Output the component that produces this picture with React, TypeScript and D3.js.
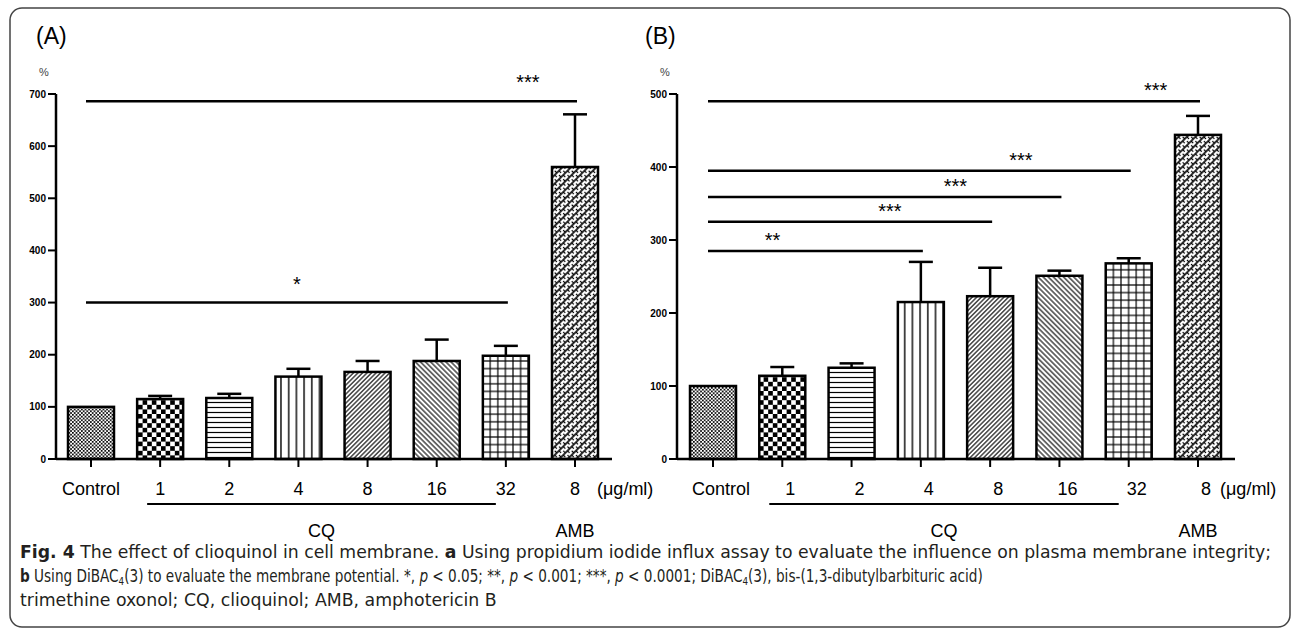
import React, { useEffect, useRef } from 'react';
import * as d3 from 'd3';

// categories on the x axis (keys) and the labels printed under the ticks
const categories = ['Control', 'CQ 1', 'CQ 2', 'CQ 4', 'CQ 8', 'CQ 16', 'CQ 32', 'AMB 8'];
const tickLabels = ['Control', '1', '2', '4', '8', '16', '32', '8'];
const patterns = ['pCtrl', 'pChk', 'pHor', 'pVer', 'pFwd', 'pBack', 'pGrid', 'pWeave'];

// (A) propidium iodide influx, %
const meansA = [100, 115, 117, 158, 167, 188, 198, 560];
const errA = [0, 6, 8, 15, 21, 41, 19, 101];
const yTicksA = [0, 100, 200, 300, 400, 500, 600, 700];

// (B) DiBAC4(3) membrane potential, %
const meansB = [100, 114, 125, 215, 223, 251, 268, 444];
const errB = [0, 12, 6, 55, 39, 7, 7, 26];
const yTicksB = [0, 100, 200, 300, 400, 500];

// significance bars: from / to category, level (in %), label, label position along the bar
const sigA = [
  { from: 'Control', to: 'AMB 8', level: 686, label: '***', at: 0.9 },
  { from: 'Control', to: 'CQ 32', level: 300, label: '*', at: 0.5 },
];
const sigB = [
  { from: 'Control', to: 'AMB 8', level: 490, label: '***', at: 0.91 },
  { from: 'Control', to: 'CQ 32', level: 395, label: '***', at: 0.74 },
  { from: 'Control', to: 'CQ 16', level: 359, label: '***', at: 0.7 },
  { from: 'Control', to: 'CQ 8', level: 325, label: '***', at: 0.64 },
  { from: 'Control', to: 'CQ 4', level: 285, label: '**', at: 0.3 },
];

// caption line widths in the figure
const captionWidths = [1252, 964, 477];

const AX = '"Liberation Sans", Arial, sans-serif';
const CAP = '"DejaVu Sans Condensed", "Liberation Sans Narrow", "Liberation Sans", Arial, sans-serif';

type Sig = { from: string; to: string; level: number; label: string; at: number };

const Panel = ({ title, titleX, axisX, xRange, yMax, ticks, means, errs, sigs, labelShift, starLift }: {
  title: string; titleX: number; axisX: number; xRange: [number, number]; yMax: number;
  ticks: number[]; means: number[]; errs: number[]; sigs: Sig[]; labelShift: number; starLift: number;
}) => {
  const x = d3.scalePoint<string>().domain(categories).range(xRange);
  const y = d3.scaleLinear().domain([0, yMax]).range([459, 94]);
  const bw = 46;
  const xEnd = xRange[1] + 37;
  const cq0 = (x('CQ 1') as number) - 13;
  const cq1 = (x('CQ 32') as number) - 10;
  return (
    <g>
      <text x={titleX} y={44} fontFamily={AX} fontSize={23}>{title}</text>
      <text x={axisX - 17} y={76} fontFamily={AX} fontSize={11} fill="#444">%</text>
      {/* bars */}
      {categories.map((c, i) => {
        const cx = x(c) as number;
        const top = y(means[i]);
        return (
          <g key={c}>
            {errs[i] > 0 && (
              <g stroke="#000" strokeWidth={2.5}>
                <line x1={cx} x2={cx} y1={top} y2={y(means[i] + errs[i])} />
                <line x1={cx - 12} x2={cx + 12} y1={y(means[i] + errs[i])} y2={y(means[i] + errs[i])} />
              </g>
            )}
            <rect x={cx - bw / 2} y={top} width={bw} height={y(0) - top} fill="#fff" />
            <rect x={cx - bw / 2} y={top} width={bw} height={y(0) - top}
              fill={`url(#${patterns[i]})`} stroke="#000" strokeWidth={2.5} />
          </g>
        );
      })}
      {/* y axis */}
      <line x1={axisX} x2={axisX} y1={y(0)} y2={y(yMax)} stroke="#000" strokeWidth={2.5} />
      {ticks.map(t => (
        <g key={t}>
          <line x1={axisX - 8} x2={axisX} y1={y(t)} y2={y(t)} stroke="#000" strokeWidth={2} />
          <text x={axisX - 10} y={y(t)} dy="0.36em" textAnchor="end" fontFamily={AX}
            fontWeight="bold" fontSize={10}>{t}</text>
        </g>
      ))}
      {/* x axis */}
      <line x1={axisX} x2={xEnd} y1={y(0)} y2={y(0)} stroke="#000" strokeWidth={2.5} />
      {categories.map((c, i) => (
        <g key={c}>
          <line x1={x(c)} x2={x(c)} y1={y(0)} y2={y(0) + 8} stroke="#000" strokeWidth={2} />
          <text x={(x(c) as number) + labelShift} y={495} textAnchor="middle" fontFamily={AX}
            fontSize={18}>{tickLabels[i]}</text>
        </g>
      ))}
      <text x={(x('AMB 8') as number) + 22} y={495} fontFamily={AX} fontSize={18}>(μg/ml)</text>
      <line x1={cq0} x2={cq1} y1={504} y2={504} stroke="#000" strokeWidth={2} />
      <text x={(cq0 + cq1) / 2} y={537} textAnchor="middle" fontFamily={AX} fontSize={18}>CQ</text>
      <text x={x('AMB 8')} y={537} textAnchor="middle" fontFamily={AX} fontSize={18}>AMB</text>
      {/* significance */}
      {sigs.map((s, i) => {
        const x0 = (x(s.from) as number) - 5;
        const x1 = (x(s.to) as number) + 2;
        const ly = y(s.level);
        return (
          <g key={i}>
            <line x1={x0} x2={x1} y1={ly} y2={ly} stroke="#000" strokeWidth={2.5} />
            <text x={x0 + (x1 - x0) * s.at} y={ly - starLift} textAnchor="middle"
              fontFamily={AX} fontSize={20}>{s.label}</text>
          </g>
        );
      })}
    </g>
  );
};

const App = () => {
  const capRef = useRef<SVGGElement>(null);

  // squeeze each caption line horizontally to the width it has in the figure
  useEffect(() => {
    if (!capRef.current) return;
    d3.select(capRef.current).selectAll<SVGTextElement, unknown>('text').each(function (_, i) {
      const w = this.getBBox().width;
      if (w > 0) {
        const k = captionWidths[i] / w;
        d3.select(this).attr('transform', `translate(20,0) scale(${k},1) translate(-20,0)`);
      }
    });
  }, []);

  return (
    <svg width={1292} height={628} style={{ position: 'absolute', left: 0, top: 0, background: '#fff' }}>
      <defs>
        <pattern id="pCtrl" width={3.6} height={3.6} patternUnits="userSpaceOnUse">
          <rect width={3.6} height={3.6} fill="#fff" />
          <rect width={1.7} height={1.7} fill="#000" />
          <rect x={1.8} y={1.8} width={1.7} height={1.7} fill="#000" />
        </pattern>
        <pattern id="pChk" width={9.2} height={9.2} patternUnits="userSpaceOnUse">
          <rect width={9.2} height={9.2} fill="#fff" />
          <rect width={4.6} height={4.6} fill="#000" />
          <rect x={4.6} y={4.6} width={4.6} height={4.6} fill="#000" />
        </pattern>
        <pattern id="pHor" width={5} height={5} patternUnits="userSpaceOnUse">
          <rect width={5} height={5} fill="#fff" />
          <line x1={0} x2={5} y1={2.5} y2={2.5} stroke="#000" strokeWidth={1.2} />
        </pattern>
        <pattern id="pVer" width={7.7} height={7.7} patternUnits="userSpaceOnUse">
          <rect width={7.7} height={7.7} fill="#fff" />
          <line x1={3.8} x2={3.8} y1={0} y2={7.7} stroke="#000" strokeWidth={1.4} />
        </pattern>
        <pattern id="pFwd" width={3.2} height={10} patternUnits="userSpaceOnUse" patternTransform="rotate(45)">
          <rect width={3.2} height={10} fill="#fff" />
          <line x1={1.6} x2={1.6} y1={0} y2={10} stroke="#000" strokeWidth={1.1} />
        </pattern>
        <pattern id="pBack" width={3.6} height={10} patternUnits="userSpaceOnUse" patternTransform="rotate(-45)">
          <rect width={3.6} height={10} fill="#fff" />
          <line x1={1.8} x2={1.8} y1={0} y2={10} stroke="#000" strokeWidth={1.1} />
        </pattern>
        <pattern id="pGrid" width={7.6} height={7.6} patternUnits="userSpaceOnUse">
          <rect width={7.6} height={7.6} fill="#fff" />
          <line x1={3.8} x2={3.8} y1={0} y2={7.6} stroke="#000" strokeWidth={1.2} />
          <line x1={0} x2={7.6} y1={3.8} y2={3.8} stroke="#000" strokeWidth={1.2} />
        </pattern>
        <pattern id="pWeave" width={6} height={6} patternUnits="userSpaceOnUse" patternTransform="rotate(45)">
          <rect width={6} height={6} fill="#fff" />
          <line x1={0} x2={0} y1={0} y2={6} stroke="#000" strokeWidth={1.6} />
          <line x1={6} x2={6} y1={0} y2={6} stroke="#000" strokeWidth={1.6} />
          <line x1={0} x2={3} y1={1.5} y2={1.5} stroke="#000" strokeWidth={1.2} />
          <line x1={3} x2={6} y1={4.5} y2={4.5} stroke="#000" strokeWidth={1.2} />
        </pattern>
      </defs>
      <rect x={10} y={8} width={1280} height={619} rx={12} fill="none" stroke="#444" strokeWidth={1.5} />
      <Panel title="(A)" titleX={36} axisX={56} xRange={[91, 575]} yMax={700} ticks={yTicksA}
        means={meansA} errs={errA} sigs={sigA} labelShift={0} starLift={12} />
      <Panel title="(B)" titleX={645} axisX={677} xRange={[713, 1198]} yMax={500} ticks={yTicksB}
        means={meansB} errs={errB} sigs={sigB} labelShift={8} starLift={4} />
      <g ref={capRef} fontFamily={CAP} fontSize={17} fill="#231f20">
        <text x={20} y={558}>
          <tspan fontWeight="bold">Fig. 4</tspan> The effect of clioquinol in cell membrane. <tspan fontWeight="bold">a</tspan> Using propidium iodide influx assay to evaluate the influence on plasma membrane integrity;
        </text>
        <text x={20} y={582}>
          <tspan fontWeight="bold">b</tspan> Using DiBAC<tspan fontSize={11} dy={3}>4</tspan><tspan dy={-3}>(3) to evaluate the membrane potential. *, </tspan><tspan fontStyle="italic">p</tspan> &lt; 0.05; **, <tspan fontStyle="italic">p</tspan> &lt; 0.001; ***, <tspan fontStyle="italic">p</tspan> &lt; 0.0001; DiBAC<tspan fontSize={11} dy={3}>4</tspan><tspan dy={-3}>(3), bis-(1,3-dibutylbarbituric acid)</tspan>
        </text>
        <text x={20} y={606}>
          trimethine oxonol; CQ, clioquinol; AMB, amphotericin B
        </text>
      </g>
    </svg>
  );
};

export default App;
